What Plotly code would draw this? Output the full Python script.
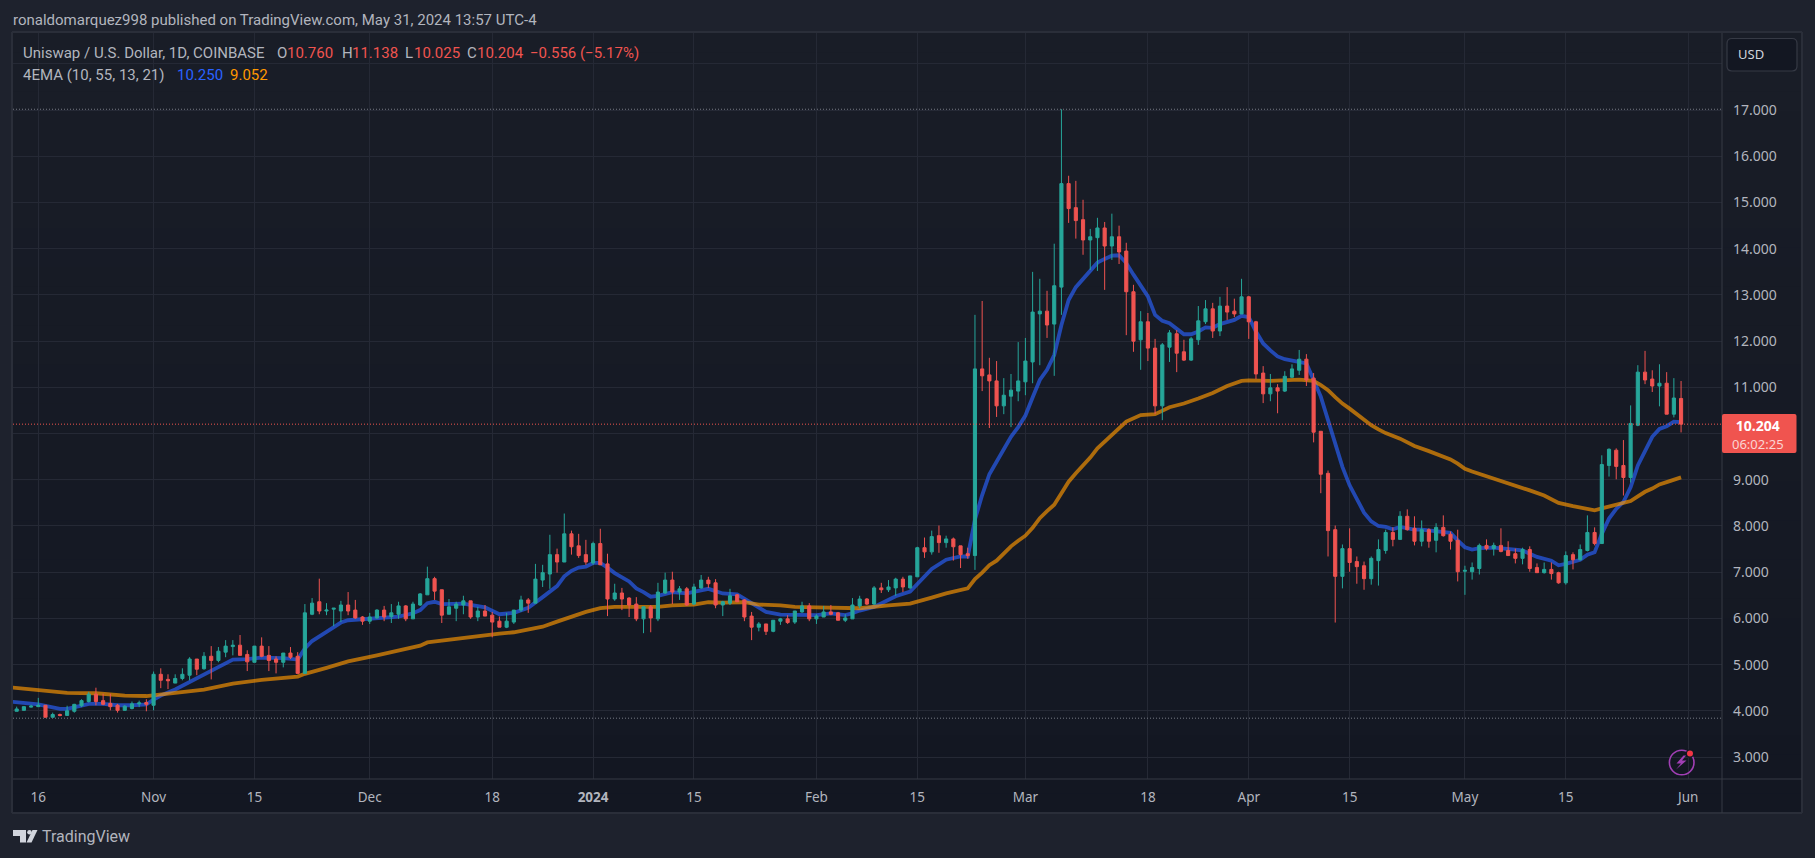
import pandas as pd
import plotly.graph_objects as go

W, H = 1815, 858

dates = [d.strftime("%Y-%m-%d") for d in pd.date_range("2023-10-13", "2024-05-31")]

opens = [
    3.99,4.01,4.08,4.09,4.12,3.86,3.92,3.90,3.99,4.11,4.20,4.36,4.22,4.16,4.12,4.01,4.05,4.15,4.18,
    4.12,4.79,4.68,4.60,4.70,4.77,5.12,4.91,5.18,5.09,5.27,5.39,5.42,5.22,5.05,5.40,5.20,5.12,5.05,5.25,5.18,4.81,6.09,6.36,6.16,6.20,6.16,6.29,6.18,6.03,
    5.94,6.01,6.18,6.04,6.09,6.27,5.99,6.29,6.51,6.86,6.62,6.09,6.22,6.29,6.38,6.03,6.16,6.07,5.94,5.81,5.92,6.18,6.40,6.33,6.83,6.96,7.38,7.22,7.83,7.57,7.38,
    7.20,7.62,7.18,6.42,6.55,6.44,6.31,5.99,6.25,5.99,6.55,6.83,6.57,6.64,6.31,6.66,6.83,6.77,6.29,6.33,6.51,6.40,6.05,5.81,5.88,5.72,5.94,5.99,5.92,6.14,6.27,
    5.99,6.03,6.14,6.12,5.96,5.99,6.27,6.42,6.31,6.66,6.62,6.66,6.85,6.66,6.90,7.53,7.44,7.79,7.64,7.72,7.57,7.40,7.36,11.40,11.27,11.14,10.60,10.81,10.92,
    11.12,11.55,12.59,12.65,12.37,13.17,15.41,14.89,14.63,14.19,14.24,14.45,14.06,14.26,13.95,13.07,12.03,12.42,11.85,10.60,11.87,12.16,11.77,11.59,12.03,12.42,12.70,12.22,12.76,12.65,12.59,
    12.96,12.42,11.31,10.86,10.99,10.92,11.22,11.37,11.61,11.20,10.05,9.14,7.92,6.91,7.51,7.23,7.14,6.86,7.25,7.47,7.86,7.71,8.21,7.95,7.67,7.92,7.69,7.97,7.82,7.69,
    7.02,7.01,7.08,7.58,7.51,7.58,7.47,7.40,7.30,7.49,7.10,6.99,7.06,6.99,6.77,7.38,7.27,7.47,7.86,7.62,9.31,9.64,9.31,9.05,10.18,11.33,11.18,11.03,11.09,10.42,10.76,
]
highs = [
    4.09,4.09,4.13,4.28,4.12,3.96,3.94,4.11,4.15,4.25,4.41,4.50,4.37,4.37,4.15,4.12,4.20,4.22,4.25,
    4.85,4.92,4.79,4.79,4.92,5.16,5.12,5.27,5.40,5.38,5.53,5.53,5.64,5.31,5.40,5.59,5.40,5.18,5.25,5.38,5.27,6.31,6.44,6.86,6.33,6.22,6.38,6.57,6.40,6.05,
    6.12,6.20,6.27,6.31,6.36,6.29,6.36,6.55,7.12,6.90,6.62,6.42,6.36,6.49,6.38,6.25,6.29,6.14,6.04,6.12,6.18,6.49,6.44,7.18,7.16,7.81,7.51,8.27,7.90,7.83,7.70,
    7.66,7.94,7.40,6.75,6.66,6.46,6.46,6.25,6.29,6.77,6.99,7.01,6.70,6.68,6.75,6.94,6.90,6.85,6.38,6.64,6.53,6.42,6.14,5.92,5.88,5.96,6.01,6.07,6.16,6.36,6.33,
    6.09,6.27,6.29,6.14,6.09,6.44,6.49,6.44,6.70,6.77,6.83,6.88,6.90,6.92,7.55,7.75,7.90,8.01,7.79,7.75,7.57,7.53,12.57,12.87,11.64,11.57,11.20,11.29,11.98,
    12.07,13.50,13.35,13.09,14.11,17.02,15.58,15.47,15.06,14.43,14.67,14.58,14.76,14.50,14.13,13.22,12.65,12.61,12.05,11.96,12.24,12.24,12.03,12.09,12.76,12.89,12.83,12.96,13.17,12.92,13.35,
    12.98,12.44,11.46,11.29,11.07,11.35,11.50,11.81,11.72,11.31,10.05,9.20,8.01,7.60,7.95,7.34,7.23,7.34,7.71,7.92,7.97,8.32,8.36,8.21,8.12,7.95,8.06,8.23,7.88,7.92,
    7.14,7.21,7.62,7.71,7.64,7.95,7.67,7.51,7.53,7.56,7.19,7.21,7.21,7.01,7.45,7.43,7.60,8.23,7.97,9.53,9.68,9.68,9.86,10.61,11.48,11.79,11.37,11.50,11.33,11.20,11.138,
]
lows = [
    3.99,4.01,4.07,4.09,3.86,3.86,3.88,3.90,3.96,4.08,4.18,4.12,4.12,4.01,3.96,4.01,4.03,4.08,3.99,
    4.01,4.49,4.47,4.60,4.66,4.66,4.77,4.89,4.68,5.05,5.16,5.20,5.20,4.86,5.05,5.16,4.86,4.81,4.94,5.12,4.81,4.81,6.07,6.09,6.07,5.83,5.92,6.07,5.99,5.86,
    5.88,5.99,5.94,5.90,5.99,5.94,5.99,6.27,6.51,6.40,5.90,6.09,5.94,6.09,5.99,5.94,6.05,5.59,5.81,5.79,5.88,6.14,6.12,6.33,6.68,6.64,6.99,7.22,7.38,7.31,7.16,
    7.16,7.16,6.05,6.38,6.18,6.03,5.94,5.68,5.70,5.94,6.53,6.31,6.40,6.27,6.29,6.64,6.66,6.22,6.05,6.29,6.36,5.94,5.53,5.72,5.64,5.70,5.86,5.88,5.88,6.12,5.94,
    5.88,6.03,6.07,5.96,5.92,5.99,6.22,6.29,6.29,6.55,6.57,6.49,6.57,6.64,6.90,7.31,7.38,7.42,7.53,7.25,7.09,7.29,7.05,10.92,10.12,10.36,10.42,10.14,10.70,
    10.83,11.09,11.48,12.07,11.25,12.57,14.56,14.22,13.87,13.54,13.52,13.11,13.76,13.67,12.13,11.77,11.38,11.57,10.42,10.29,11.55,11.33,11.57,11.57,11.92,12.37,12.07,12.11,12.46,12.52,12.59,
    12.05,11.18,10.66,10.70,10.44,10.90,11.20,11.27,11.03,9.81,8.71,7.34,5.91,6.65,7.01,6.75,6.62,6.73,6.71,7.40,7.56,7.71,7.90,7.58,7.56,7.53,7.43,7.77,7.49,6.80,
    6.51,6.84,6.95,7.47,7.36,7.43,7.36,7.19,7.17,7.01,6.99,6.97,6.84,6.75,6.73,7.06,7.25,7.45,7.58,7.62,9.07,9.01,8.66,8.94,10.16,11.07,10.90,10.59,10.42,10.35,10.025,
]
closes = [
    4.04,4.09,4.10,4.12,3.86,3.92,3.90,4.00,4.14,4.22,4.36,4.20,4.14,4.09,4.01,4.10,4.15,4.17,4.14,
    4.79,4.66,4.65,4.70,4.79,5.12,4.90,5.18,5.09,5.29,5.40,5.42,5.20,5.06,5.40,5.18,5.09,5.05,5.25,5.16,4.81,6.12,6.33,6.16,6.18,6.22,6.29,6.16,6.01,5.94,
    6.03,6.18,6.03,6.12,6.27,5.99,6.31,6.53,6.86,6.59,6.07,6.25,6.31,6.38,6.03,6.16,6.05,5.92,5.81,5.94,6.18,6.40,6.33,6.85,6.99,7.38,7.22,7.83,7.55,7.36,7.22,
    7.62,7.16,6.42,6.55,6.42,6.29,5.99,6.25,6.01,6.57,6.83,6.57,6.64,6.29,6.68,6.83,6.75,6.29,6.36,6.49,6.36,6.03,5.81,5.88,5.72,5.96,5.99,5.91,6.16,6.27,5.99,
    6.05,6.14,6.09,5.96,6.01,6.29,6.42,6.31,6.66,6.62,6.68,6.85,6.68,6.92,7.53,7.44,7.77,7.64,7.72,7.55,7.38,7.36,11.40,11.25,11.14,10.60,10.83,10.94,11.14,
    11.57,12.63,12.65,12.35,13.20,15.41,14.87,14.61,14.19,14.26,14.45,14.06,14.26,13.93,13.07,12.00,12.42,11.85,10.60,11.92,12.18,11.74,11.59,12.05,12.44,12.70,12.22,12.76,12.63,12.59,12.96,
    12.42,11.29,10.86,10.99,10.92,11.24,11.40,11.61,11.16,10.03,9.12,7.90,6.91,7.51,7.21,7.12,6.86,7.30,7.49,7.86,7.71,8.21,7.92,7.67,7.92,7.67,7.97,7.79,7.67,7.01,
    7.04,7.10,7.58,7.51,7.58,7.45,7.36,7.30,7.49,7.08,6.99,7.06,6.97,6.77,7.36,7.27,7.49,7.86,7.62,9.33,9.66,9.29,9.05,10.22,11.33,11.16,11.03,11.09,10.42,10.77,10.204,
]
assert len(dates) == len(opens) == len(highs) == len(lows) == len(closes)

ema_fast_dates = [
    "2023-10-12","2023-10-16","2023-10-19","2023-10-20","2023-10-22","2023-10-23","2023-10-25","2023-10-27","2023-10-29","2023-10-31",
    "2023-11-01","2023-11-02","2023-11-04","2023-11-06","2023-11-08","2023-11-10","2023-11-12","2023-11-14","2023-11-16","2023-11-19",
    "2023-11-21","2023-11-22","2023-11-23","2023-11-25","2023-11-27","2023-11-28","2023-11-30","2023-12-02","2023-12-05","2023-12-07",
    "2023-12-08","2023-12-09","2023-12-10","2023-12-11","2023-12-14","2023-12-17","2023-12-19","2023-12-21","2023-12-23","2023-12-25",
    "2023-12-27","2023-12-28","2023-12-29","2023-12-30","2023-12-31","2024-01-01","2024-01-02","2024-01-03","2024-01-04","2024-01-06",
    "2024-01-07","2024-01-08","2024-01-09","2024-01-10","2024-01-12","2024-01-14","2024-01-15","2024-01-17","2024-01-19","2024-01-21",
    "2024-01-23","2024-01-25","2024-01-27","2024-01-29","2024-02-01","2024-02-03","2024-02-05","2024-02-06","2024-02-07","2024-02-09",
    "2024-02-11","2024-02-12","2024-02-14","2024-02-15","2024-02-17","2024-02-19","2024-02-21","2024-02-22","2024-02-23","2024-02-24",
    "2024-02-25","2024-02-26","2024-02-27","2024-02-28","2024-02-29","2024-03-01","2024-03-02","2024-03-03","2024-03-04","2024-03-05",
    "2024-03-06","2024-03-07","2024-03-08","2024-03-09","2024-03-10","2024-03-11","2024-03-12","2024-03-13","2024-03-14","2024-03-15",
    "2024-03-16","2024-03-17","2024-03-18","2024-03-19","2024-03-20","2024-03-21","2024-03-22","2024-03-23","2024-03-24","2024-03-25",
    "2024-03-26","2024-03-27","2024-03-28","2024-03-29","2024-03-30","2024-03-31","2024-04-01","2024-04-02","2024-04-03","2024-04-04",
    "2024-04-05","2024-04-06","2024-04-07","2024-04-08","2024-04-09","2024-04-10","2024-04-11","2024-04-12","2024-04-13","2024-04-14",
    "2024-04-15","2024-04-16","2024-04-17","2024-04-18","2024-04-19","2024-04-20","2024-04-21","2024-04-22","2024-04-23","2024-04-24",
    "2024-04-25","2024-04-26","2024-04-27","2024-04-28","2024-04-29","2024-04-30","2024-05-01","2024-05-02","2024-05-03","2024-05-05",
    "2024-05-07","2024-05-09","2024-05-10","2024-05-11","2024-05-13","2024-05-14","2024-05-15","2024-05-17","2024-05-18","2024-05-19",
    "2024-05-20","2024-05-21","2024-05-22","2024-05-23","2024-05-24","2024-05-25","2024-05-26","2024-05-27","2024-05-28","2024-05-29",
    "2024-05-30","2024-05-31",
]
ema_fast = [
    4.20,4.14,4.04,4.04,4.11,4.15,4.15,4.12,4.12,4.14,
    4.24,4.33,4.46,4.62,4.77,4.95,5.11,5.12,5.15,5.14,
    5.11,5.35,5.51,5.71,5.91,5.96,5.98,6.00,6.04,6.11,
    6.18,6.33,6.36,6.31,6.32,6.24,6.09,6.12,6.23,6.46,
    6.70,6.91,7.03,7.10,7.12,7.20,7.20,7.10,6.98,6.80,
    6.65,6.57,6.47,6.49,6.57,6.54,6.57,6.64,6.54,6.52,
    6.33,6.14,6.08,6.07,6.07,6.11,6.07,6.11,6.17,6.25,
    6.40,6.48,6.58,6.75,7.07,7.27,7.34,7.34,8.14,8.67,
    9.12,9.39,9.68,9.93,10.14,10.39,10.78,11.16,11.38,11.70,
    12.35,12.89,13.17,13.34,13.51,13.70,13.78,13.85,13.86,13.69,
    13.44,13.22,12.97,12.57,12.44,12.39,12.26,12.15,12.15,12.21,
    12.30,12.29,12.37,12.42,12.46,12.55,12.52,12.21,11.95,11.80,
    11.67,11.61,11.58,11.57,11.52,11.16,10.80,10.29,9.75,9.28,
    8.88,8.59,8.29,8.10,8.00,7.98,7.93,7.98,7.95,7.92,
    7.92,7.90,7.90,7.88,7.85,7.69,7.54,7.49,7.52,7.53,
    7.49,7.47,7.40,7.33,7.25,7.15,7.18,7.27,7.38,7.43,
    7.83,8.16,8.37,8.52,8.84,9.31,9.62,9.93,10.10,10.16,
    10.26,10.25,
]
ema_slow_dates = [
    "2023-10-12","2023-10-16","2023-10-20","2023-10-24","2023-10-28","2023-10-31","2023-11-02","2023-11-05","2023-11-08","2023-11-12",
    "2023-11-16","2023-11-21","2023-11-22","2023-11-25","2023-11-28","2023-12-02","2023-12-07","2023-12-08","2023-12-09","2023-12-11",
    "2023-12-14","2023-12-17","2023-12-19","2023-12-21","2023-12-23","2023-12-25","2023-12-27","2023-12-29","2023-12-31","2024-01-02",
    "2024-01-04","2024-01-07","2024-01-10","2024-01-12","2024-01-15","2024-01-17","2024-01-19","2024-01-22","2024-01-24","2024-01-27",
    "2024-01-29","2024-02-01","2024-02-05","2024-02-07","2024-02-11","2024-02-14","2024-02-17","2024-02-19","2024-02-22","2024-02-23",
    "2024-02-24","2024-02-25","2024-02-26","2024-02-27","2024-02-28","2024-02-29","2024-03-01","2024-03-02","2024-03-03","2024-03-04",
    "2024-03-05","2024-03-06","2024-03-07","2024-03-08","2024-03-09","2024-03-10","2024-03-11","2024-03-12","2024-03-13","2024-03-14",
    "2024-03-15","2024-03-17","2024-03-18","2024-03-19","2024-03-21","2024-03-23","2024-03-25","2024-03-27","2024-03-29","2024-03-31",
    "2024-04-01","2024-04-04","2024-04-08","2024-04-10","2024-04-11","2024-04-12","2024-04-13","2024-04-14","2024-04-15","2024-04-16",
    "2024-04-17","2024-04-18","2024-04-19","2024-04-20","2024-04-22","2024-04-24","2024-04-26","2024-04-28","2024-04-29","2024-04-30",
    "2024-05-01","2024-05-02","2024-05-04","2024-05-06","2024-05-08","2024-05-10","2024-05-12","2024-05-14","2024-05-16","2024-05-18",
    "2024-05-19","2024-05-20","2024-05-21","2024-05-22","2024-05-23","2024-05-24","2024-05-25","2024-05-26","2024-05-27","2024-05-28",
    "2024-05-29","2024-05-30","2024-05-31",
]
ema_slow = [
    4.51,4.46,4.39,4.38,4.33,4.32,4.36,4.40,4.46,4.59,
    4.67,4.74,4.80,4.93,5.07,5.20,5.36,5.41,5.48,5.52,
    5.59,5.65,5.67,5.70,5.75,5.82,5.93,6.04,6.14,6.22,
    6.25,6.25,6.25,6.28,6.30,6.35,6.34,6.35,6.30,6.28,
    6.25,6.24,6.22,6.22,6.28,6.32,6.45,6.54,6.65,6.85,
    6.99,7.15,7.25,7.40,7.56,7.68,7.79,7.96,8.17,8.32,
    8.46,8.71,8.96,9.14,9.30,9.48,9.68,9.82,9.98,10.11,
    10.26,10.40,10.42,10.42,10.57,10.65,10.76,10.88,11.03,11.14,
    11.15,11.14,11.17,11.14,11.05,10.94,10.79,10.65,10.54,10.42,
    10.29,10.18,10.09,10.01,9.89,9.73,9.62,9.51,9.44,9.35,
    9.24,9.18,9.08,8.99,8.89,8.77,8.66,8.50,8.43,8.36,
    8.34,8.38,8.42,8.47,8.50,8.54,8.64,8.74,8.81,8.90,
    8.95,9.01,9.052,
]

x_tick_dates = ["2023-10-16","2023-11-01","2023-11-15","2023-12-01","2023-12-18","2024-01-01","2024-01-15",
                "2024-02-01","2024-02-15","2024-03-01","2024-03-18","2024-04-01","2024-04-15","2024-05-01",
                "2024-05-15","2024-06-01"]
x_tick_labels = ["16","Nov","15","Dec","18","<b>2024</b>","15","Feb","15","Mar","18","Apr","15","May","15","Jun"]
y_ticks = list(range(3, 19))
# 10.000 sits behind the last-price tag in the reference, 18.000 behind the USD button
y_tick_labels = ["" if v in (10, 18) else f"{v}.000" for v in y_ticks]

high_mark, low_mark, last_price = 17.02, 3.84, 10.204

X_RANGE = ["2023-10-12 11:45", "2024-06-05 16:20"]
Y_RANGE = [2.524, 18.67]
PLOT_L, PLOT_R, PLOT_T, PLOT_B = 13, 1722, 33, 779
OUT_R, OUT_B = 1802, 813

BG_OUT, FRAME, GRID = "#1e222d", "#2a2e39", "#252935"
UP, DOWN = "#26a69a", "#ef5350"
TEXT, TEXT2 = "#b2b5be", "#9598a1"
FONT = "Noto Sans"
HEAD = "Roboto"


def px(x): return x / W
def py(y): return 1 - y / H


shapes = []
# chart background, a soft vertical gradient
TOP_RGB, BOT_RGB = (25, 29, 39), (19, 23, 34)
N = 40
for i in range(N):
    t = i / (N - 1)
    col = tuple(round(a + (b - a) * t) for a, b in zip(TOP_RGB, BOT_RGB))
    y0 = PLOT_T + (OUT_B - PLOT_T) * i / N
    y1 = PLOT_T + (OUT_B - PLOT_T) * (i + 1) / N
    shapes.append(dict(type="rect", xref="paper", yref="paper", x0=px(PLOT_L), x1=px(OUT_R), y0=py(y0), y1=py(y1 + 0.5),
                       fillcolor="rgb(%d,%d,%d)" % col, line_width=0, layer="below"))


def seg(x0, y0, x1, y1, color=FRAME, width=1, layer="above"):
    shapes.append(dict(type="line", xref="paper", yref="paper", x0=px(x0), x1=px(x1), y0=py(y0), y1=py(y1),
                       line=dict(color=color, width=width), layer=layer))


# frame and axis separators
for a in [(PLOT_L - 1, PLOT_T - 1, OUT_R, PLOT_T - 1), (PLOT_L - 1, OUT_B, OUT_R, OUT_B),
          (PLOT_L - 1, PLOT_T - 1, PLOT_L - 1, OUT_B), (OUT_R, PLOT_T - 1, OUT_R, OUT_B)]:
    seg(*a, width=2)
seg(PLOT_R, PLOT_T, PLOT_R, OUT_B, color="#363a45")
seg(PLOT_L, PLOT_B, OUT_R, PLOT_B, color="#363a45")

# horizontal marker lines bound to the price axis
for val, col in [(high_mark, "#787b86"), (low_mark, "#787b86"), (last_price, "#f0564f")]:
    shapes.append(dict(type="line", xref="paper", yref="y", x0=px(PLOT_L), x1=px(PLOT_R), y0=val, y1=val,
                       line=dict(color=col, width=1, dash="1px,2px"), layer="above"))


def rrect(x0, y0, x1, y1, r, fill, line=None, lw=0):
    xa, xb = px(x0), px(x1)
    ya, yb = py(y0), py(y1)
    rx, ry = r / W, r / H
    path = (f"M{xa+rx},{ya} L{xb-rx},{ya} Q{xb},{ya} {xb},{ya-ry} L{xb},{yb+ry} Q{xb},{yb} {xb-rx},{yb} "
            f"L{xa+rx},{yb} Q{xa},{yb} {xa},{yb+ry} L{xa},{ya-ry} Q{xa},{ya} {xa+rx},{ya} Z")
    shapes.append(dict(type="path", xref="paper", yref="paper", path=path, fillcolor=fill,
                       line=dict(color=line or fill, width=lw), layer="above"))


rrect(PLOT_R, 414, 1796.5, 453, 2, "#f0544f")        # last price tag
rrect(1727, 38.5, 1797, 71, 5, "#131722", "#363a45", 1.2)  # USD button


def poly(points, fill):
    p = " L".join(f"{px(a)},{py(b)}" for a, b in points)
    shapes.append(dict(type="path", xref="paper", yref="paper", path=f"M{p} Z", fillcolor=fill, line_width=0, layer="above"))


def circle(cx, cy, r, fill=None, line=None, lw=0):
    shapes.append(dict(type="circle", xref="paper", yref="paper", x0=px(cx - r), x1=px(cx + r), y0=py(cy - r), y1=py(cy + r),
                       fillcolor=fill or "rgba(0,0,0,0)", line=dict(color=line or "rgba(0,0,0,0)", width=lw), layer="above"))


# lightning badge
circle(1681.7, 762.5, 12.3, line="#a13fb5", lw=1.6)
poly([(1683.5, 755.5), (1676.5, 763.5), (1681, 763.5), (1676, 769.5), (1686.5, 760.5), (1682, 760.5), (1686, 755.5)], "#a13fb5")
circle(1690, 753.5, 4.2, fill="#131722")
circle(1690, 753.5, 3, fill="#f23645")

# TradingView mark
logo = "#d1d4dc"
poly([(13, 830), (26, 830), (26, 842.5), (20, 842.5), (20, 836), (13, 836)], logo)
circle(29.5, 832.3, 2.3, fill=logo)
poly([(32.5, 830), (37.5, 830), (31.5, 842.5), (26.5, 842.5)], logo)


annotations = []


def label(x, y, text, color=TEXT, size=15, family=HEAD, anchor="left"):
    annotations.append(dict(x=px(x), y=py(y), xref="paper", yref="paper", text=text, showarrow=False,
                            xanchor=anchor, yanchor="middle", align=anchor, borderpad=0, borderwidth=0,
                            font=dict(family=family, size=size, color=color)))


label(12.7, 20, "ronaldomarquez998 published on TradingView.com, May 31, 2024 13:57 UTC-4")
label(23, 53.5, "Uniswap / U.S. Dollar, 1D, COINBASE")
RED = "#f0544f"
for x, t, c in [(277, "O", TEXT), (287, "10.760", RED), (342, "H", TEXT), (352, "11.138", RED),
                (405, "L", TEXT), (414, "10.025", RED), (467, "C", TEXT), (477, "10.204", RED),
                (530, "−0.556 (−5.17%)", RED)]:
    label(x, 53.5, t, color=c)
label(23, 75, "4EMA (10, 55, 13, 21)")
label(177, 75, "10.250", color="#2962ff")
label(230, 75, "9.052", color="#ff9800")

label(1751, 54.5, "USD", color="#d1d4dc", size=13, family=FONT, anchor="center")
label(1758, 434, "<b>10.204</b><br><span style='font-size:13px;color:#fbd5d3'>06:02:25</span>",
      color="#ffffff", size=14, family=FONT, anchor="center")
label(42, 836, "TradingView", color="#b2b5be", size=16, family=HEAD)

fig = go.Figure()

fig.add_trace(go.Scatter(x=ema_fast_dates, y=ema_fast, mode="lines", name="EMA 10", xaxis="x", yaxis="y",
                         line=dict(color="rgba(41,98,255,0.65)", width=3.8), hoverinfo="skip"))
fig.add_trace(go.Scatter(x=ema_slow_dates, y=ema_slow, mode="lines", name="EMA 55", xaxis="x", yaxis="y",
                         line=dict(color="rgba(255,152,0,0.65)", width=3.8), hoverinfo="skip"))
fig.add_trace(go.Candlestick(x=dates, open=opens, high=highs, low=lows, close=closes, xaxis="x2", yaxis="y2",
                             whiskerwidth=0, name="UNI/USD",
                             increasing=dict(line=dict(color=UP, width=1), fillcolor=UP),
                             decreasing=dict(line=dict(color=DOWN, width=1), fillcolor=DOWN)))

x_dom = [px(PLOT_L), px(PLOT_R)]
y_dom = [py(PLOT_B), py(PLOT_T)]

fig.update_layout(
    width=W, height=H, autosize=False,
    margin=dict(l=0, r=0, t=0, b=0, pad=0),
    paper_bgcolor=BG_OUT, plot_bgcolor="rgba(0,0,0,0)",
    showlegend=False, dragmode=False, hovermode=False,
    boxgap=0.38,
    shapes=shapes, annotations=annotations,
    font=dict(family=FONT, color=TEXT),
    xaxis=dict(domain=x_dom, type="date", range=X_RANGE, anchor="y", tickmode="array",
               tickvals=x_tick_dates, ticktext=x_tick_labels, showgrid=True, gridcolor=GRID, gridwidth=1,
               zeroline=False, showline=False, ticks="", ticklen=0, ticklabelstandoff=8,
               tickfont=dict(family=FONT, size=13.5, color=TEXT), rangeslider=dict(visible=False)),
    yaxis=dict(domain=y_dom, range=Y_RANGE, anchor="x", side="right", tickmode="array",
               tickvals=y_ticks, ticktext=y_tick_labels, showgrid=True, gridcolor=GRID, gridwidth=1,
               zeroline=False, showline=False, ticks="", ticklen=0, ticklabelstandoff=10,
               tickfont=dict(family=FONT, size=14, color=TEXT)),
    xaxis2=dict(domain=x_dom, type="date", range=X_RANGE, anchor="y2", overlaying="x", visible=False,
                rangeslider=dict(visible=False)),
    yaxis2=dict(domain=y_dom, range=Y_RANGE, anchor="x2", overlaying="y", visible=False),
)

fig.write_html("out.html", config=dict(displayModeBar=False),
               post_script="document.body.style.margin='0';document.body.style.overflow='hidden';document.body.style.background='#1e222d';")
